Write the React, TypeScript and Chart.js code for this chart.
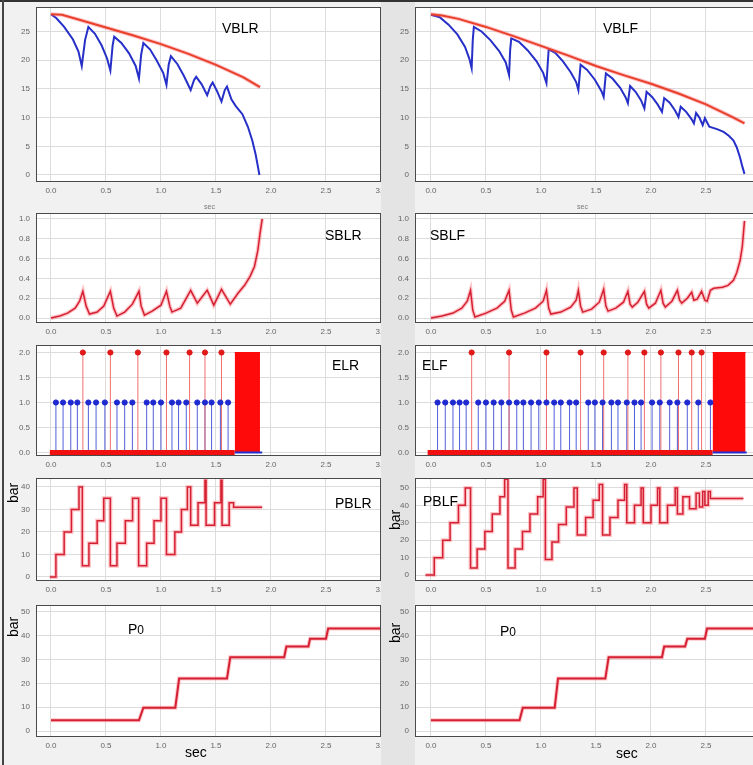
import React, { useEffect, useRef } from 'react';
import Chart from 'chart.js/auto';

type Pt = [number, number];

// ---------- tick values ----------
const X_TICKS = [0, 0.5, 1, 1.5, 2, 2.5, 3];
const VB_TICKS = [0, 5, 10, 15, 20, 25];
const SB_TICKS = [0, 0.2, 0.4, 0.6, 0.8, 1.0];
const EL_TICKS = [0, 0.5, 1, 1.5, 2];
const PBLR_TICKS = [0, 10, 20, 30, 40];
const P50_TICKS = [0, 10, 20, 30, 40, 50];

// ---------- VBLR ----------
const VBLR_BLUE: Pt[] = [
  [0.0, 28.0], [0.05, 27.3], [0.12, 25.8], [0.2, 23.6], [0.25, 21.5], [0.28, 19.0], [0.31, 23.5], [0.34, 25.8],
  [0.4, 24.6], [0.46, 22.6], [0.51, 20.3], [0.54, 18.2], [0.56, 22.5], [0.575, 24.1],
  [0.64, 23.0], [0.71, 21.2], [0.77, 19.0], [0.8, 16.8], [0.82, 21.0], [0.84, 23.0],
  [0.9, 21.9], [0.96, 20.0], [1.02, 17.8], [1.05, 15.7], [1.07, 19.2], [1.09, 20.7],
  [1.15, 19.3], [1.21, 17.2], [1.27, 14.8], [1.3, 16.5], [1.32, 17.1],
  [1.37, 15.8], [1.42, 13.9], [1.45, 15.5], [1.47, 16.1],
  [1.51, 14.6], [1.55, 12.8], [1.58, 14.8], [1.6, 15.4],
  [1.64, 13.2], [1.68, 12.0], [1.74, 10.6], [1.79, 8.4], [1.83, 6.0], [1.86, 3.6], [1.88, 1.6], [1.895, 0.0],
];
const VBLR_RED: Pt[] = [
  [0, 28], [0.1, 27.9], [0.25, 27.1], [0.5, 25.7], [0.75, 24.3], [1.0, 22.8], [1.25, 21.1], [1.5, 19.2], [1.75, 17.0], [1.9, 15.3],
];

// ---------- VBLF ----------
const VBLF_BLUE: Pt[] = [
  [0.0, 27.9], [0.08, 27.5], [0.16, 26.2], [0.24, 24.5], [0.31, 22.3], [0.35, 20.2], [0.37, 18.6], [0.38, 23.5], [0.39, 25.8],
  [0.46, 25.0], [0.54, 23.5], [0.62, 21.6], [0.68, 19.6], [0.71, 17.4], [0.72, 21.8], [0.73, 23.8],
  [0.8, 23.2], [0.88, 21.7], [0.96, 19.8], [1.02, 17.8], [1.05, 16.0], [1.07, 21.9],
  [1.13, 21.3], [1.2, 19.8], [1.27, 17.9], [1.32, 16.2], [1.34, 14.8], [1.36, 19.2],
  [1.42, 18.3], [1.49, 16.6], [1.55, 14.6], [1.57, 13.6], [1.59, 17.7],
  [1.65, 16.8], [1.72, 15.2], [1.77, 13.5], [1.79, 12.5], [1.81, 15.5],
  [1.86, 14.5], [1.91, 13.0], [1.94, 11.6], [1.96, 14.5],
  [2.01, 13.6], [2.06, 12.3], [2.1, 11.0], [2.12, 13.4],
  [2.17, 12.6], [2.22, 11.2], [2.25, 10.1], [2.27, 11.9],
  [2.32, 11.0], [2.37, 9.7], [2.39, 9.0], [2.41, 10.8],
  [2.44, 10.0], [2.47, 8.7], [2.49, 9.9],
  [2.53, 8.4], [2.6, 8.0], [2.66, 7.5], [2.71, 6.8], [2.75, 6.0], [2.78, 4.8], [2.81, 3.0], [2.83, 1.5], [2.85, 0.2],
];
const VBLF_RED: Pt[] = [
  [0, 28], [0.1, 27.8], [0.25, 27.2], [0.5, 25.8], [0.75, 24.2], [1.0, 22.5], [1.25, 20.8], [1.5, 19.0],
  [1.75, 17.4], [2.0, 15.9], [2.25, 14.2], [2.5, 12.3], [2.75, 10.0], [2.85, 9.0],
];

// ---------- SBLR / SBLF ----------
const SBLR: Pt[] = [
  [0.0, 0.0], [0.08, 0.02], [0.15, 0.05], [0.22, 0.1], [0.26, 0.17], [0.29, 0.27], [0.32, 0.12], [0.35, 0.04],
  [0.42, 0.06], [0.48, 0.12], [0.54, 0.27], [0.57, 0.1], [0.6, 0.02], [0.67, 0.06], [0.74, 0.14], [0.8, 0.27],
  [0.82, 0.12], [0.85, 0.03], [0.92, 0.07], [1.0, 0.13], [1.05, 0.27], [1.08, 0.12], [1.1, 0.06], [1.18, 0.1],
  [1.27, 0.28], [1.33, 0.15], [1.42, 0.28], [1.48, 0.13], [1.55, 0.29], [1.63, 0.14], [1.7, 0.25], [1.76, 0.33],
  [1.81, 0.42], [1.85, 0.52], [1.88, 0.68], [1.9, 0.85], [1.92, 1.0],
];
const SBLF: Pt[] = [
  [0.0, 0.0], [0.1, 0.02], [0.2, 0.05], [0.28, 0.1], [0.33, 0.17], [0.36, 0.28], [0.38, 0.08], [0.4, 0.01],
  [0.5, 0.05], [0.6, 0.1], [0.67, 0.17], [0.71, 0.28], [0.73, 0.08], [0.75, 0.01], [0.85, 0.05], [0.95, 0.1],
  [1.02, 0.17], [1.05, 0.28], [1.07, 0.1], [1.09, 0.04], [1.18, 0.06], [1.27, 0.11], [1.32, 0.18], [1.34, 0.28],
  [1.36, 0.12], [1.38, 0.06], [1.46, 0.09], [1.53, 0.16], [1.57, 0.29], [1.59, 0.12], [1.61, 0.07], [1.68, 0.1],
  [1.75, 0.16], [1.79, 0.27], [1.81, 0.14], [1.83, 0.11], [1.88, 0.16], [1.94, 0.27], [1.96, 0.14], [1.98, 0.1],
  [2.04, 0.15], [2.09, 0.28], [2.11, 0.15], [2.13, 0.11], [2.19, 0.17], [2.24, 0.28], [2.26, 0.18], [2.28, 0.15],
  [2.33, 0.2], [2.37, 0.26], [2.39, 0.18], [2.42, 0.19], [2.46, 0.27], [2.49, 0.18], [2.51, 0.17], [2.54, 0.28],
  [2.57, 0.3], [2.65, 0.31], [2.7, 0.33], [2.75, 0.38], [2.78, 0.46], [2.81, 0.58], [2.83, 0.72], [2.85, 0.98],
];

// ---------- ELR / ELF (event stems) ----------
const ELR_BLUE = [0.045, 0.11, 0.18, 0.24, 0.34, 0.41, 0.49, 0.6, 0.67, 0.74, 0.87, 0.93, 1.0, 1.1, 1.16, 1.23, 1.33, 1.4, 1.46, 1.54, 1.61];
const ELR_RED = [0.29, 0.54, 0.79, 1.05, 1.26, 1.4, 1.55];
const ELR_BLOCK: Pt = [1.67, 1.9];
const ELR_BASE: Pt = [-0.01, 1.92];
const ELF_BLUE = [0.06, 0.13, 0.2, 0.26, 0.32, 0.43, 0.5, 0.57, 0.64, 0.71, 0.78, 0.84, 0.91, 0.98, 1.05, 1.12, 1.18, 1.26, 1.32, 1.43, 1.49, 1.56, 1.64, 1.7, 1.78, 1.85, 1.91, 2.01, 2.08, 2.17, 2.24, 2.33, 2.43, 2.54];
const ELF_RED = [0.37, 0.71, 1.05, 1.36, 1.57, 1.79, 1.94, 2.09, 2.25, 2.37, 2.46];
const ELF_BLOCK: Pt = [2.56, 2.86];
const ELF_BASE: Pt = [-0.03, 2.87];

// ---------- PBLR / PBLF (step changes: time, new level) ----------
const PBLR: Pt[] = [
  [-0.01, 0], [0.045, 10], [0.12, 20], [0.186, 30], [0.255, 40], [0.285, 5], [0.345, 15], [0.42, 25], [0.48, 35],
  [0.54, 5], [0.6, 15], [0.676, 25], [0.742, 35], [0.797, 5], [0.87, 15], [0.937, 25], [1.0, 35], [1.05, 10],
  [1.126, 20], [1.186, 30], [1.24, 40], [1.27, 23], [1.337, 33], [1.4, 43], [1.41, 23], [1.487, 33], [1.545, 43],
  [1.555, 23], [1.62, 33], [1.66, 31], [1.92, 31],
];
const PBLF: Pt[] = [
  [-0.05, 0], [0.03, 10], [0.107, 20], [0.174, 30], [0.25, 40], [0.312, 50], [0.36, 4], [0.42, 15], [0.49, 25],
  [0.557, 35], [0.627, 45], [0.67, 55], [0.7, 4], [0.765, 15], [0.832, 25], [0.9, 35], [0.97, 45], [1.02, 55],
  [1.04, 9], [1.1, 19], [1.16, 29], [1.23, 39], [1.3, 50], [1.33, 23], [1.406, 33], [1.474, 43], [1.53, 52],
  [1.56, 23], [1.627, 33], [1.7, 43], [1.76, 52], [1.78, 30], [1.85, 40], [1.91, 50], [1.93, 30], [2.0, 40],
  [2.06, 50], [2.08, 30], [2.15, 40], [2.22, 50], [2.24, 35], [2.29, 45], [2.35, 38], [2.41, 47], [2.44, 39],
  [2.47, 48], [2.49, 40], [2.52, 48], [2.54, 44], [2.84, 44],
];

// ---------- P0 ----------
const P0_LEFT: Pt[] = [
  [0.0, 4.5], [0.8, 4.5], [0.84, 9.8], [1.13, 9.8], [1.165, 22], [1.6, 22], [1.63, 31], [2.12, 31], [2.14, 35.5],
  [2.34, 35.5], [2.355, 38.7], [2.5, 38.7], [2.52, 43], [3.0, 43],
];
const P0_RIGHT: Pt[] = [
  [0.0, 4.5], [0.805, 4.5], [0.835, 9.8], [1.125, 9.8], [1.155, 22], [1.585, 22], [1.615, 31], [2.1, 31], [2.12, 35.5],
  [2.31, 35.5], [2.33, 38.7], [2.49, 38.7], [2.51, 43], [3.0, 43],
];

// ---------- helpers ----------
const toXY = (a: Pt[]) => a.map(([x, y]) => ({ x, y }));
const lineDs = (pts: Pt[], color: string, width: number, extra: any = {}) => ({
  data: toXY(pts), borderColor: color, backgroundColor: color, borderWidth: width, pointRadius: 0, tension: 0, ...extra,
});
const haloDs = (pts: Pt[], color: string, width: number, extra: any = {}) => lineDs(pts, color, width, extra);
const stemDs = (times: number[], h: number, color: string) => ({
  data: times.flatMap((t) => [{ x: t, y: 0 }, { x: t, y: h }, { x: t, y: null }]),
  borderColor: color, borderWidth: 1, pointRadius: 0,
});
const dotDs = (times: number[], h: number, color: string, r: number) => ({
  data: times.map((t) => ({ x: t, y: h })), showLine: false, pointRadius: r,
  pointBackgroundColor: color, pointBorderColor: color, borderColor: color, backgroundColor: color,
});
const eventSets = (blue: number[], red: number[], block: Pt, base: Pt) => [
  dotDs(red, 2, '#e01818', 2.6),
  dotDs(blue, 1, '#1e2ad0', 2.6),
  lineDs([[block[0], 0], [base[1], 0]], '#2030d0', 2),
  lineDs([[base[0], 0], [block[0], 0]], '#f01010', 5),
  lineDs([[block[0], 2], [block[1], 2]], '#ff0a0a', 1, { fill: { value: 0 }, backgroundColor: '#ff0a0a' }),
  stemDs(red, 2, '#f07070'),
  stemDs(blue, 1, '#5060d8'),
];

const boxPlugin = {
  id: 'box',
  beforeDraw(chart: any) {
    const { ctx, chartArea: a } = chart;
    ctx.save();
    ctx.fillStyle = '#ffffff';
    ctx.fillRect(a.left, a.top, a.right - a.left, a.bottom - a.top);
    ctx.restore();
  },
  afterDraw(chart: any) {
    const { ctx, chartArea: a } = chart;
    ctx.save();
    ctx.strokeStyle = '#4a4a4a';
    ctx.lineWidth = 1;
    ctx.strokeRect(a.left + 0.5, a.top + 0.5, a.right - a.left - 1, a.bottom - a.top - 1);
    ctx.restore();
  },
};

type PanelProps = {
  left: number; top: number; width: number; height: number; yW: number; xH: number; padTop: number; padRight: number;
  xMin: number; xMax: number; yMin: number; yMax: number; yTicks: number[]; yDec: number; datasets: any[]; z: number;
};

function Panel(p: PanelProps) {
  const ref = useRef<HTMLCanvasElement>(null);
  useEffect(() => {
    const tickFont = { family: 'Arial', size: 8 };
    const chart = new Chart(ref.current as HTMLCanvasElement, {
      type: 'line',
      data: { datasets: p.datasets },
      options: {
        animation: false,
        responsive: false,
        maintainAspectRatio: false,
        events: [],
        layout: { padding: { top: p.padTop, right: p.padRight, left: 0, bottom: 0 } },
        plugins: { legend: { display: false }, tooltip: { enabled: false } },
        scales: {
          x: {
            type: 'linear', min: p.xMin, max: p.xMax,
            afterBuildTicks: (s: any) => { s.ticks = X_TICKS.map((v) => ({ value: v })); },
            afterFit: (s: any) => { s.height = p.xH; s.paddingLeft = 0; s.paddingRight = 0; },
            grid: { color: '#dcdcdc', drawTicks: false },
            border: { display: false },
            ticks: { padding: 4, font: tickFont, color: '#666', maxRotation: 0, autoSkip: false, callback: (v: any) => Number(v).toFixed(1) },
          },
          y: {
            type: 'linear', min: p.yMin, max: p.yMax,
            afterBuildTicks: (s: any) => { s.ticks = p.yTicks.map((v) => ({ value: v })); },
            afterFit: (s: any) => { s.width = p.yW; s.paddingTop = 0; s.paddingBottom = 0; },
            grid: { color: '#dcdcdc', drawTicks: false },
            border: { display: false },
            ticks: { padding: 6, font: tickFont, color: '#666', autoSkip: false, callback: (v: any) => Number(v).toFixed(p.yDec) },
          },
        },
      } as any,
      plugins: [boxPlugin],
    });
    return () => chart.destroy();
  }, []);
  return (
    <canvas
      ref={ref}
      width={p.width}
      height={p.height}
      style={{ position: 'absolute', left: p.left, top: p.top, width: p.width, height: p.height, zIndex: p.z }}
    />
  );
}

const L = { left: 0, width: 400, yW: 36, padRight: 19, xMin: -0.136, xMax: 3, z: 0 };
const R = { left: 390, width: 380, yW: 25, padRight: 9, xMin: -0.145, xMax: 3, z: 2 };
const ROW1 = { top: 0, height: 200, padTop: 7, xH: 18, yMin: -1.22, yMax: 29.27, yTicks: VB_TICKS, yDec: 0 };
const ROW2 = { top: 205, height: 135, padTop: 8, xH: 17, yMin: -0.05, yMax: 1.06, yTicks: SB_TICKS, yDec: 1 };
const ROW3 = { top: 340, height: 135, padTop: 4, xH: 19, yMin: -0.07, yMax: 2.15, yTicks: EL_TICKS, yDec: 1 };
const ROW4L = { top: 475, height: 125, padTop: 3, xH: 19, yMin: -1.8, yMax: 44, yTicks: PBLR_TICKS, yDec: 0 };
const ROW4R = { top: 475, height: 125, padTop: 3, xH: 19, yMin: -3.4, yMax: 55.7, yTicks: P50_TICKS, yDec: 0 };
const ROW5 = { top: 600, height: 165, padTop: 5, xH: 28, yMin: -2.5, yMax: 52.9, yTicks: P50_TICKS, yDec: 0 };

const RED = '#d42032';
const HALO = 'rgba(255,90,100,0.35)';

const Label = ({ text, left, top, size = 14, color = '#000' }: { text: React.ReactNode; left: number; top: number; size?: number; color?: string }) => (
  <div style={{ position: 'absolute', left, top, fontSize: size, lineHeight: 1, color, fontFamily: 'Arial, "Liberation Sans", sans-serif', zIndex: 5, whiteSpace: 'nowrap' }}>{text}</div>
);
const VLabel = ({ text, cx, cy }: { text: string; cx: number; cy: number }) => (
  <div style={{ position: 'absolute', left: cx, top: cy, transform: 'translate(-50%,-50%) rotate(-90deg)', fontSize: 14, lineHeight: 1, fontFamily: 'Arial, "Liberation Sans", sans-serif', color: '#000', zIndex: 5 }}>{text}</div>
);
const P0Text = () => (<span>P<span style={{ fontSize: 12 }}>0</span></span>);

export default function App() {
  return (
    <div style={{ position: 'fixed', left: 0, top: 0, width: 753, height: 765, overflow: 'hidden', background: '#f1f1f1' }}>
      {/* left column */}
      <Panel {...L} {...ROW1} datasets={[lineDs(VBLR_RED, '#e8402a', 2), haloDs(VBLR_RED, HALO, 4), lineDs(VBLR_BLUE, '#2630c8', 2)]} />
      <Panel {...L} {...ROW2} datasets={[lineDs(SBLR, RED, 1.5), haloDs(SBLR, HALO, 4)]} />
      <Panel {...L} {...ROW3} datasets={eventSets(ELR_BLUE, ELR_RED, ELR_BLOCK, ELR_BASE)} />
      <Panel {...L} {...ROW4L} datasets={[lineDs(PBLR, RED, 1.5, { stepped: true }), haloDs(PBLR, HALO, 4, { stepped: true })]} />
      <Panel {...L} {...ROW5} datasets={[lineDs(P0_LEFT, RED, 2), haloDs(P0_LEFT, HALO, 4)]} />

      {/* gutter between columns */}
      <div style={{ position: 'absolute', left: 381, top: 0, width: 34, height: 765, background: '#e4e4e4', zIndex: 1 }} />
      <div style={{ position: 'absolute', left: 0, top: 0, width: 753, height: 2, background: '#333', zIndex: 6 }} />
      <div style={{ position: 'absolute', left: 2, top: 0, width: 2, height: 765, background: '#444', zIndex: 6 }} />

      {/* right column */}
      <Panel {...R} {...ROW1} datasets={[lineDs(VBLF_RED, '#e8402a', 2), haloDs(VBLF_RED, HALO, 4), lineDs(VBLF_BLUE, '#2630c8', 2)]} />
      <Panel {...R} {...ROW2} datasets={[lineDs(SBLF, RED, 1.5), haloDs(SBLF, HALO, 4)]} />
      <Panel {...R} {...ROW3} datasets={eventSets(ELF_BLUE, ELF_RED, ELF_BLOCK, ELF_BASE)} />
      <Panel {...R} {...ROW4R} datasets={[lineDs(PBLF, RED, 1.5, { stepped: true }), haloDs(PBLF, HALO, 4, { stepped: true })]} />
      <Panel {...R} {...ROW5} datasets={[lineDs(P0_RIGHT, RED, 2), haloDs(P0_RIGHT, HALO, 4)]} />

      {/* panel texts */}
      <Label text="VBLR" left={222} top={21} />
      <Label text="VBLF" left={603} top={21} />
      <Label text="SBLR" left={325} top={228} />
      <Label text="SBLF" left={430} top={228} />
      <Label text="ELR" left={332} top={358} />
      <Label text="ELF" left={422} top={358} />
      <Label text="PBLR" left={335} top={496} />
      <Label text="PBLF" left={423} top={494} />
      <Label text={<P0Text />} left={128} top={622} />
      <Label text={<P0Text />} left={500} top={624} />
      <Label text="sec" left={185} top={745} />
      <Label text="sec" left={616} top={746} />
      <Label text="sec" left={204} top={203} size={7} color="#777" />
      <Label text="sec" left={577} top={203} size={7} color="#777" />
      <VLabel text="bar" cx={13} cy={493} />
      <VLabel text="bar" cx={13} cy={627} />
      <VLabel text="bar" cx={395} cy={520} />
      <VLabel text="bar" cx={395} cy={633} />
    </div>
  );
}
